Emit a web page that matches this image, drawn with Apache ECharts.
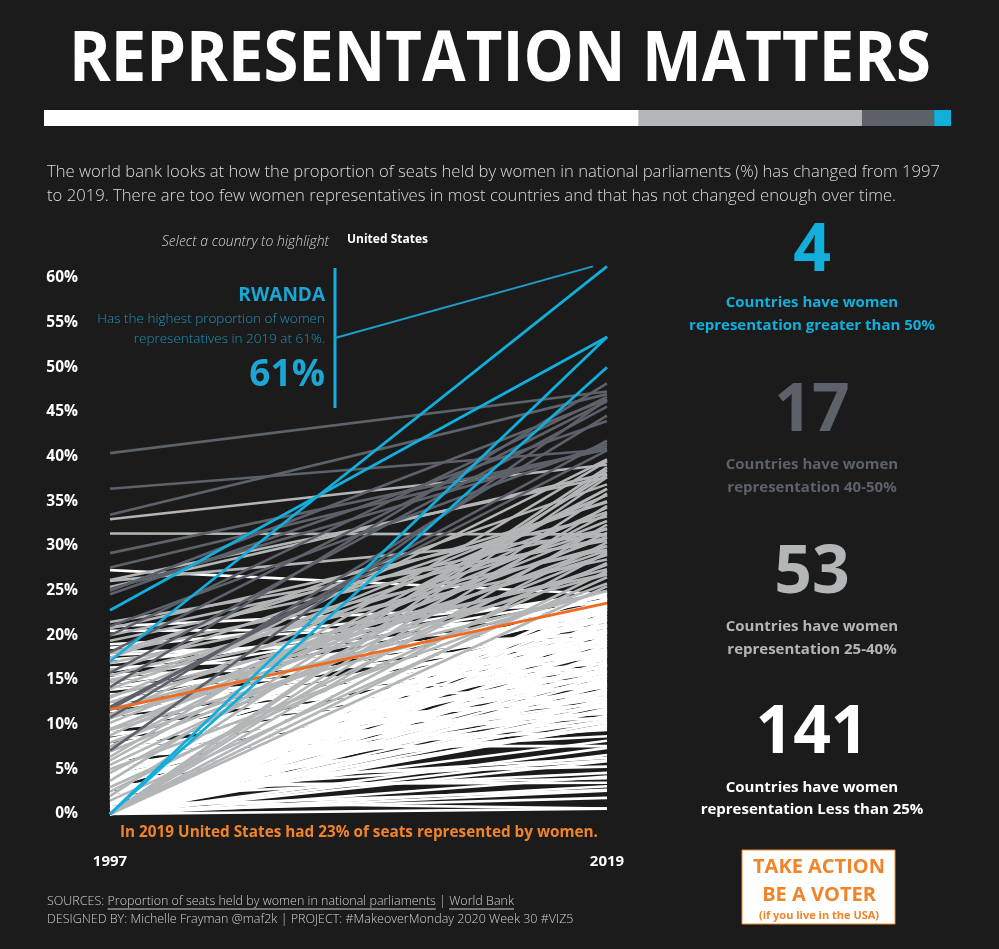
<!DOCTYPE html>
<html>
<head>
<meta charset="utf-8">
<script src="https://cdn.jsdelivr.net/npm/echarts@6/dist/echarts.min.js"></script>
<style>
  html, body { margin: 0; padding: 0; background: #1b1b1b; }
  #main { width: 999px; height: 949px; }
</style>
</head>
<body>
<div id="main"></div>
<script>
var years = ['1997', '2019'];
var yTicks = [0, 5, 10, 15, 20, 25, 30, 35, 40, 45, 50, 55, 60];

// > 50% in 2019
var blue1997 = [17.1, 22.8, 0, 0];
var blue2019 = [61.3, 53.4, 53.4, 50.0];

// 40-50% in 2019
var dark1997 = [40.4, 36.4, 33.5, 29.2, 27.6, 25.0, 25.2, 24.6, 21.0, 20.0, 18.1, 15.8, 14.2, 12.0, 11.7, 10.8, 7.1];
var dark2019 = [47.3, 40.8, 47.0, 40.8, 40.9, 46.4, 41.2, 44.0, 41.5, 46.7, 46.2, 45.6, 48.2, 40.7, 41.8, 44.6, 46.4];

// 25-40% in 2019
var light1997 = [33.0, 31.4, 26.2, 26.1, 25.4, 21.5, 20.8, 20.0, 19.4, 18.0, 18.0, 17.5, 16.9, 16.0, 15.5, 15.0, 14.7, 14.0,
  13.2, 13.0, 12.5, 12.0, 11.7, 11.1, 11.1, 10.8, 10.7, 10.2, 9.5, 9.5, 9.4, 8.8, 8.0, 7.5, 7.0, 6.4, 6.0, 5.5, 5.0, 4.6,
  3.7, 3.0, 2.5, 2.0, 1.5, 0, 0, 0, 0, 0, 0, 0, 0];
var light2019 = [39.1, 31.3, 37.7, 31.2, 38.1, 30.6, 33.3, 31.9, 30.9, 29.6, 34.9, 36.9, 28.5, 35.0, 30.0, 26.9, 31.9, 33.8,
  27.4, 35.7, 29.0, 39.7, 26.8, 35.7, 25.0, 29.5, 31.0, 32.8, 32.0, 30.0, 25.0, 34.3, 27.9, 36.4, 29.1, 39.5, 36.4, 31.5, 25.8, 33.6,
  38.0, 28.1, 30.4, 38.8, 26.5, 38.5, 34.5, 37.7, 32.4, 29.3, 27.2, 35.9, 25.5];

// < 25% in 2019 (United States kept apart)
var white1997 = [0, 1.4, 0, 0.8, 0, 3.3, 0, 1.9, 4.1, 0, 2.4, 3.0, 0, 7.6, 6.4, 3.0,
  0, 5.5, 2.0, 7.8, 0, 9.1, 3.9, 0, 6.2, 10.1, 1.5, 4.8, 0, 8.3, 11.5, 2.7, 6.9, 0, 12.3, 4.0, 9.6, 0, 5.2, 13.4,
  0, 7.1, 3.6, 10.7, 0, 5.9, 14.4, 8.8, 1.2, 11.9, 0, 6.5, 15.6, 3.2, 9.9, 0, 12.8, 4.5, 7.7, 16.4, 0, 10.3, 2.2, 13.9, 6.0, 18.1, 0,
  8.4, 11.1, 4.3, 15.0, 0, 20.5, 7.3, 12.6, 2.9, 17.3, 0, 9.3, 14.6, 5.6, 19.0, 0, 10.9, 13.2, 3.4, 16.9, 8.1, 0, 21.0, 11.7, 6.8, 14.1, 0, 18.6, 9.8, 27.3, 12.2, 4.9, 16.0,
  1.0, 0, 6.7, 2.3, 0, 8.9, 0.5, 4.2, 0, 10.5, 1.7, 0, 7.0, 13.0, 2.1, 0, 5.0, 0, 9.0, 3.5, 0, 12.0, 5.3, 0, 15.2, 1.1,
  0, 2.8, 0.3, 5.8, 11.0, 0, 7.5, 3.8, 0, 6.3, 17.8, 0, 10.0, 4.4];
var white2019 = [0.6, 0.6, 2.6, 2.7, 3.1, 3.5, 4.2, 4.6, 5.3, 5.9, 6.0, 6.3, 7.4, 7.6, 9.4, 9.6,
  10.0, 10.2, 10.5, 10.8, 11.0, 11.2, 11.5, 11.8, 12.0, 12.2, 12.4, 12.6, 12.9, 13.1, 13.3, 13.5, 13.7, 14.0, 14.1, 14.3, 14.5, 14.7, 14.9, 15.0,
  15.2, 15.4, 15.6, 15.8, 16.0, 16.1, 16.3, 16.5, 16.7, 16.9, 17.1, 17.3, 17.4, 17.6, 17.8, 18.0, 18.1, 18.3, 18.5, 18.7, 18.9, 19.0, 19.2, 19.4, 19.6, 19.7, 19.9,
  20.0, 20.2, 20.3, 20.5, 20.7, 20.8, 21.0, 21.2, 21.3, 21.5, 21.7, 21.9, 22.0, 22.2, 22.3, 22.5, 22.7, 22.8, 23.0, 23.1, 23.3, 23.4, 23.6, 23.7, 23.9, 24.0, 24.2, 24.3, 24.5, 24.6, 24.7, 24.8, 24.9,
  9.8, 10.3, 11.4, 12.7, 13.9, 14.6, 15.5, 16.6, 17.7, 18.4, 19.5, 20.4, 21.8, 22.6, 23.2, 24.1, 13.0, 11.6, 12.9, 15.9, 16.8, 17.9, 20.6, 22.9, 24.4, 8.2,
  6.6, 4.0, 1.8, 8.7, 19.3, 21.1, 22.1, 18.2, 14.4, 16.2, 20.1, 12.2, 23.5, 10.7];

var us1997 = [11.7];
var us2019 = [23.6];

var C_BLUE = '#12aedc', C_DARK = '#5d616a', C_LIGHT = '#b3b6b7', C_WHITE = '#ffffff', C_ORANGE = '#f26a1e', C_ORTEXT = '#f0842a';
var BG = '#1b1b1b';

var counts = [white1997.length + us1997.length, light1997.length, dark1997.length, blue1997.length];
var total = counts[0] + counts[1] + counts[2] + counts[3];

var myChart = echarts.init(document.getElementById('main'));

var series = [];
function addGroup(a, b, color, width) {
  for (var i = 0; i < a.length; i++) {
    series.push({
      type: 'line', xAxisIndex: 0, yAxisIndex: 0,
      data: [a[i], b[i]], symbol: 'none', silent: true, clip: false,
      lineStyle: { color: color, width: width }
    });
  }
}
addGroup(white1997, white2019, C_WHITE, 2.6);
addGroup(light1997, light2019, C_LIGHT, 2.6);
addGroup(dark1997, dark2019, C_DARK, 2.6);
addGroup(us1997, us2019, C_ORANGE, 2.8);
addGroup(blue1997, blue2019, C_BLUE, 2.8);

// the top stacked bar of the four groups
var barColors = [C_WHITE, C_LIGHT, C_DARK, C_BLUE];
for (var k = 0; k < counts.length; k++) {
  series.push({
    type: 'bar', xAxisIndex: 1, yAxisIndex: 1, stack: 'all', barWidth: 16,
    data: [counts[k]], itemStyle: { color: barColors[k] }, silent: true
  });
}

var cv = document.createElement('canvas').getContext('2d');
function tw(text, font) { cv.font = font; return cv.measureText(text).width; }

function txt(x, y, text, font, color, align, extra) {
  var o = {
    type: 'text', x: x, y: y, silent: true,
    style: { text: text, font: font, fill: color, align: align || 'left', textAlign: align || 'left',
      verticalAlign: 'middle', textVerticalAlign: 'middle' }
  };
  if (extra) for (var p in extra) o[p] = extra[p];
  return o;
}

var titleFont = 'bold 70px "Open Sans"';
var titleScale = 862 / tw('REPRESENTATION MATTERS', titleFont);
var descFont = '300 16px "Open Sans"';
var desc1 = 'The world bank looks at how the proportion of seats held by women in national parliaments (%) has changed from 1997';
var desc2 = 'to 2019. There are too few women representatives in most countries and that has not changed enough over time.';
var descScale = 893 / tw(desc1, descFont);

var srcFont = '300 12.5px "Open Sans"';
var s0 = 'SOURCES: ', s1 = 'Proportion of seats held by women in national parliaments', s2 = ' | ', s3 = 'World Bank';
var x1 = 47 + tw(s0, srcFont), x2 = x1 + tw(s1, srcFont), x3 = x2 + tw(s2, srcFont), x4 = x3 + tw(s3, srcFont);

var numFont = 'bold 66px "Open Sans"';
var capFont = 'bold 15px "Open Sans"';
var RX = 812;

var graphics = [
  txt(500, 61, 'REPRESENTATION MATTERS', titleFont, '#ffffff', 'center', { scaleX: titleScale }),
  txt(47, 172, desc1, descFont, '#dcdcdc', 'left', { scaleX: descScale }),
  txt(47, 196, desc2, descFont, '#dcdcdc', 'left', { scaleX: descScale }),
  txt(329, 242, 'Select a country to highlight', 'italic 300 14px "Open Sans"', '#d6d6d6', 'right'),
  txt(347, 240, 'United States', 'bold 12px "Open Sans"', '#ffffff', 'left'),

  { type: 'line', silent: true, shape: { x1: 335, y1: 268, x2: 335, y2: 408 }, style: { stroke: C_BLUE, lineWidth: 3 } },
  txt(325, 296, 'RWANDA', 'bold 19px "Open Sans"', '#1ba6d3', 'right'),
  txt(325, 319, 'Has the highest proportion of women', '300 13.5px "Open Sans"', '#1f93bb', 'right'),
  txt(325, 339, 'representatives in 2019 at 61%.', '300 13.5px "Open Sans"', '#1f93bb', 'right'),
  txt(325, 375, '61%', 'bold 37px "Open Sans"', '#1ba6d3', 'right'),

  txt(359, 833, 'In 2019 United States had 23% of seats represented by women.', 'bold 15.3px "Open Sans"', C_ORTEXT, 'center'),

  txt(47, 901, s0, srcFont, '#d0d0d0', 'left'),
  txt(x1, 901, s1, srcFont, '#d0d0d0', 'left'),
  txt(x2, 901, s2, srcFont, '#d0d0d0', 'left'),
  txt(x3, 901, s3, srcFont, '#d0d0d0', 'left'),
  { type: 'line', silent: true, shape: { x1: x1, y1: 909, x2: x2, y2: 909 }, style: { stroke: '#d0d0d0', lineWidth: 1 } },
  { type: 'line', silent: true, shape: { x1: x3, y1: 909, x2: x4, y2: 909 }, style: { stroke: '#d0d0d0', lineWidth: 1 } },
  txt(47, 919, 'DESIGNED BY: Michelle Frayman @maf2k | PROJECT: #MakeoverMonday 2020 Week 30 #VIZ5', srcFont, '#d0d0d0', 'left'),

  txt(RX, 252, String(counts[3]), numFont, C_BLUE, 'center'),
  txt(RX, 303, 'Countries have women', capFont, C_BLUE, 'center'),
  txt(RX, 326, 'representation greater than 50%', capFont, C_BLUE, 'center'),
  txt(RX, 412, String(counts[2]), numFont, C_DARK, 'center'),
  txt(RX, 465, 'Countries have women', capFont, C_DARK, 'center'),
  txt(RX, 488, 'representation 40-50%', capFont, C_DARK, 'center'),
  txt(RX, 574, String(counts[1]), numFont, C_LIGHT, 'center'),
  txt(RX, 627, 'Countries have women', capFont, C_LIGHT, 'center'),
  txt(RX, 650, 'representation 25-40%', capFont, C_LIGHT, 'center'),
  txt(RX, 734, String(counts[0]), numFont, '#ffffff', 'center'),
  txt(RX, 788, 'Countries have women', capFont, '#ffffff', 'center'),
  txt(RX, 810, 'representation Less than 25%', capFont, '#ffffff', 'center'),

  { type: 'rect', silent: true, shape: { x: 742, y: 850, width: 153, height: 74 }, style: { fill: '#ffffff', stroke: '#f08a33', lineWidth: 1 } },
  txt(819, 867, 'TAKE ACTION', 'bold 20px "Open Sans"', C_ORTEXT, 'center'),
  txt(819, 895, 'BE A VOTER', 'bold 20px "Open Sans"', C_ORTEXT, 'center'),
  txt(819, 916, '(if you live in the USA)', 'bold 11px "Open Sans"', C_ORTEXT, 'center')
];

var option = {
  backgroundColor: BG,
  animation: false,
  grid: [
    { left: 110, right: 392, top: 278, bottom: 135 },
    { left: 44, width: 907, top: 110, height: 16 }
  ],
  xAxis: [
    {
      type: 'category', gridIndex: 0, data: years, boundaryGap: false,
      axisLine: { show: false }, axisTick: { show: false }, splitLine: { show: false },
      axisLabel: { margin: 40, color: '#ffffff', fontFamily: 'Open Sans', fontWeight: 'bold', fontSize: 15 }
    },
    { type: 'value', gridIndex: 1, min: 0, max: total, show: false }
  ],
  yAxis: [
    {
      type: 'value', gridIndex: 0, min: yTicks[0], max: yTicks[yTicks.length - 1], interval: yTicks[1] - yTicks[0],
      axisLine: { show: false }, axisTick: { show: false }, splitLine: { show: false },
      axisLabel: { margin: 32, color: '#ffffff', fontFamily: 'Open Sans', fontWeight: 'bold', fontSize: 15.5, formatter: '{value}%' }
    },
    { type: 'category', gridIndex: 1, data: ['all'], show: false }
  ],
  series: series,
  graphic: graphics
};
myChart.setOption(option);

// connector from the Rwanda note to its 2019 end point
var endPt = myChart.convertToPixel({ xAxisIndex: 0, yAxisIndex: 0 }, [years[1], blue2019[0]]);
graphics.push({ type: 'line', silent: true, shape: { x1: 335, y1: 338, x2: endPt[0] - 14, y2: endPt[1] },
  style: { stroke: '#1e9cc6', lineWidth: 2 } });
myChart.setOption({ graphic: graphics });
</script>
</body>
</html>
